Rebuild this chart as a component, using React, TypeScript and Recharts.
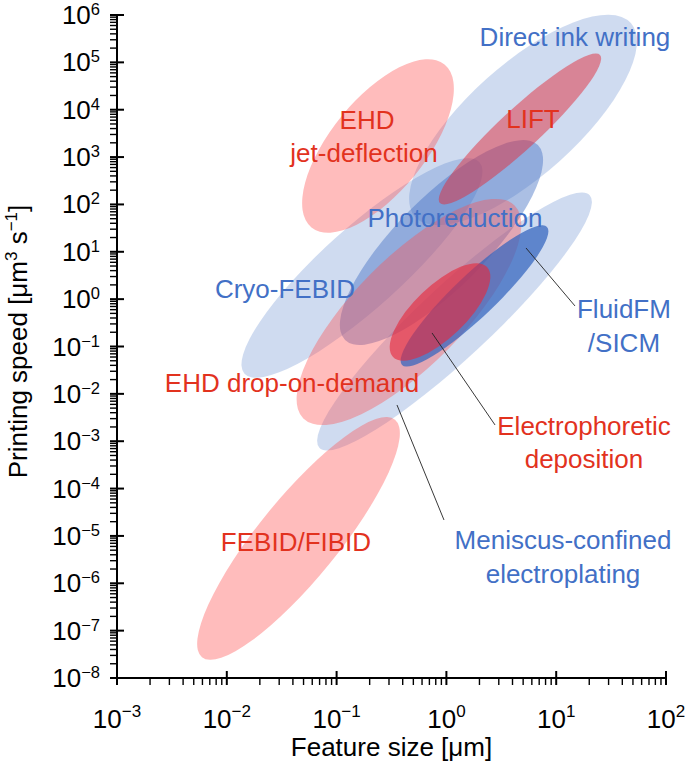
import React from 'react';
import { ScatterChart, Scatter, XAxis, YAxis, ReferenceLine } from 'recharts';

// ---------- axes ----------
const xDecades = [-3, -2, -1, 0, 1, 2];
const yDecades = [-8, -7, -6, -5, -4, -3, -2, -1, 0, 1, 2, 3, 4, 5, 6];
const minorMultipliers = [2, 3, 4, 5, 6, 7, 8, 9];
const xTitle = 'Feature size [μm]';

// ---------- ellipses (log10 units): centre, end of long half-axis, end of short half-axis ----------
const ellipseNames = [
  'Direct ink writing',
  'Cryo-FEBID',
  'Meniscus-confined electroplating',
  'Photoreduction',
  'EHD jet-deflection',
  'EHD drop-on-demand',
  'FEBID/FIBID',
  'LIFT',
  'FluidFM/SICM',
  'Electrophoretic deposition',
];
const ellipseCentres: [number, number][] = [
  [0.698, 3.783],
  [-0.769, 0.658],
  [0.074, -0.472],
  [-0.045, 1.196],
  [-0.623, 3.234],
  [-0.341, -0.271],
  [-1.347, -5.054],
  [0.67, 3.593],
  [0.256, 0.067],
  [-0.058, -0.271],
];
const ellipseLongEnds: [number, number][] = [
  [1.68, 5.831],
  [0.301, 2.89],
  [1.305, 2.193],
  [0.833, 3.253],
  [-0.017, 4.955],
  [0.621, 1.978],
  [-0.468, -2.547],
  [1.399, 5.155],
  [0.916, 1.524],
  [0.37, 0.679],
];
const ellipseShortEnds: [number, number][] = [
  [1.033, 2.919],
  [-0.525, 0.031],
  [0.298, -1.027],
  [0.247, 0.527],
  [-0.291, 2.605],
  [0.008, -1.073],
  [-1.065, -5.588],
  [0.794, 3.283],
  [0.388, -0.254],
  [0.106, -0.668],
];

// ---------- annotations (log10 units) ----------
const labelTexts = [
  'Direct ink writing', 'EHD', 'jet-deflection', 'LIFT', 'Photoreduction', 'Cryo-FEBID',
  'FluidFM', '/SICM', 'EHD drop-on-demand', 'Electrophoretic', 'deposition', 'FEBID/FIBID',
  'Meniscus-confined', 'electroplating',
];
const labelPositions: [number, number][] = [
  [1.171, 5.345], [-0.723, 3.593], [-0.75, 2.896], [0.789, 3.614], [0.078, 1.524], [-1.47, 0.024],
  [1.617, -0.398], [1.617, -1.116], [-1.406, -1.96], [1.253, -2.868], [1.253, -3.565], [-1.37, -5.318],
  [1.062, -5.275], [1.062, -5.993],
];
const labelTones = [
  'blue', 'red', 'red', 'red', 'blue', 'blue', 'blue', 'blue', 'red', 'red', 'red', 'red', 'blue', 'blue',
];
const leaderLines: [[number, number], [number, number]][] = [
  [[0.725, 1.08], [1.171, -0.144]],
  [[-0.131, -0.714], [0.443, -2.657]],
  [[-0.45, -2.235], [-0.022, -4.663]],
];

// ---------- styles ----------
const FONT = '"Liberation Sans", Arial, Helvetica, sans-serif';
const toneColour: Record<string, string> = { red: '#e2321e', blue: '#4270c6' };
const ellipseStyle: Record<string, { fill: string; opacity: number }> = {
  'Direct ink writing': { fill: 'rgb(68,114,196)', opacity: 0.26 },
  'Cryo-FEBID': { fill: 'rgb(68,114,196)', opacity: 0.26 },
  'Meniscus-confined electroplating': { fill: 'rgb(68,114,196)', opacity: 0.26 },
  Photoreduction: { fill: 'rgb(68,114,196)', opacity: 0.45 },
  'EHD jet-deflection': { fill: 'rgb(255,80,80)', opacity: 0.38 },
  'EHD drop-on-demand': { fill: 'rgb(255,80,80)', opacity: 0.38 },
  'FEBID/FIBID': { fill: 'rgb(255,80,80)', opacity: 0.38 },
  LIFT: { fill: 'rgb(225,45,60)', opacity: 0.5 },
  'FluidFM/SICM': { fill: 'rgb(50,100,190)', opacity: 0.72 },
  'Electrophoretic deposition': { fill: 'rgb(230,40,60)', opacity: 0.62 },
};

// ---------- derived tables ----------
const buildTicks = (decades: number[]) => {
  const out: number[] = [];
  decades.forEach((d, i) => {
    out.push(10 ** d);
    if (i < decades.length - 1) minorMultipliers.forEach((m) => out.push(m * 10 ** d));
  });
  return out;
};
const xTicks = buildTicks(xDecades);
const yTicks = buildTicks(yDecades);
const toPoint = (p: [number, number]) => ({ x: 10 ** p[0], y: 10 ** p[1] });
const ellipses = ellipseNames.map((name, i) => ({
  name,
  data: [toPoint(ellipseCentres[i]), toPoint(ellipseLongEnds[i]), toPoint(ellipseShortEnds[i])],
}));
const labels = labelTexts.map((text, i) => ({ ...toPoint(labelPositions[i]), text, tone: labelTones[i] }));

const isMajor = (v: number) => {
  const e = Math.log10(v);
  return Math.abs(e - Math.round(e)) < 1e-6;
};
const expText = (v: number) => {
  const e = Math.round(Math.log10(v));
  return e < 0 ? '\u2212' + Math.abs(e) : String(e);
};

const XTick = (props: any) => {
  const { x, y, payload } = props;
  const major = isMajor(payload.value);
  return (
    <g>
      <line x1={x} x2={x} y1={major ? y - 7 : y} y2={y + 7} stroke="#000" strokeWidth={major ? 2 : 1.4} />
      {major && (
        <text x={x} y={y + 50} textAnchor="middle" fontFamily={FONT} fontSize={26} fill="#000">
          10<tspan dy={-11} fontSize={17}>{expText(payload.value)}</tspan>
        </text>
      )}
    </g>
  );
};

const YTick = (props: any) => {
  const { x, y, payload } = props;
  const major = isMajor(payload.value);
  return (
    <g>
      <line x1={x - 7} x2={major ? x + 7 : x} y1={y} y2={y} stroke="#000" strokeWidth={major ? 2 : 1.4} />
      {major && (
        <text x={x - 17} y={y + 9} textAnchor="end" fontFamily={FONT} fontSize={26} fill="#000">
          10<tspan dy={-9} fontSize={16.5}>{expText(payload.value)}</tspan>
        </text>
      )}
    </g>
  );
};

const XTitle = (props: any) => {
  const vb = props.viewBox || {};
  return (
    <text x={vb.x + vb.width / 2} y={vb.y + 78} textAnchor="middle" fontFamily={FONT} fontSize={26} fill="#000">
      {xTitle}
    </text>
  );
};

const YTitle = (props: any) => {
  const vb = props.viewBox || {};
  const x = vb.x + 10;
  const y = vb.y + vb.height / 2 - 5;
  return (
    <text x={x} y={y} transform={`rotate(-90 ${x} ${y})`} textAnchor="middle" fontFamily={FONT} fontSize={26} fill="#000">
      Printing speed [μm<tspan dy={-10} fontSize={17}>3</tspan>
      <tspan dy={10}> s</tspan>
      <tspan dy={-10} fontSize={17}>{'\u22121'}</tspan>
      <tspan dy={10}>]</tspan>
    </text>
  );
};

const makeEllipse = (fill: string, opacity: number) => (props: any) => {
  const pts = props.points;
  if (!pts || pts.length < 3) return <g />;
  const [c, a, b] = pts;
  const m = [a.x - c.x, a.y - c.y, b.x - c.x, b.y - c.y, c.x, c.y].join(' ');
  return <circle cx={0} cy={0} r={1} transform={`matrix(${m})`} fill={fill} fillOpacity={opacity} stroke="none" />;
};

const LabelShape = (props: any) => {
  const { cx, cy, payload } = props;
  return (
    <text x={cx} y={cy} textAnchor="middle" fontFamily={FONT} fontSize={26} fill={toneColour[payload.tone]}>
      {payload.text}
    </text>
  );
};

const Empty = () => <g />;

export default function App() {
  return (
    <div style={{ position: 'absolute', left: 0, top: 0, background: '#fff' }}>
      <ScatterChart width={685} height={767} margin={{ top: 15, right: 19, left: 17, bottom: 29 }}>
        <XAxis
          type="number"
          dataKey="x"
          scale="log"
          domain={[10 ** xDecades[0], 10 ** xDecades[xDecades.length - 1]]}
          ticks={xTicks}
          interval={0}
          tick={XTick}
          tickLine={false}
          tickSize={0}
          tickMargin={0}
          axisLine={{ stroke: '#000', strokeWidth: 2 }}
          height={60}
          label={XTitle}
        />
        <YAxis
          type="number"
          dataKey="y"
          scale="log"
          domain={[10 ** yDecades[0], 10 ** yDecades[yDecades.length - 1]]}
          ticks={yTicks}
          interval={0}
          tick={YTick}
          tickLine={false}
          tickSize={0}
          tickMargin={0}
          axisLine={{ stroke: '#000', strokeWidth: 2 }}
          width={100}
          label={YTitle}
        />
        {ellipses.map((e) => (
          <Scatter
            key={e.name}
            name={e.name}
            data={e.data}
            shape={Empty}
            line={makeEllipse(ellipseStyle[e.name].fill, ellipseStyle[e.name].opacity)}
            lineType="joint"
            isAnimationActive={false}
          />
        ))}
        {leaderLines.map((seg, i) => (
          <ReferenceLine
            key={i}
            segment={[toPoint(seg[0]), toPoint(seg[1])]}
            stroke="#222"
            strokeWidth={0.9}
            ifOverflow="visible"
            zIndex={1000}
          />
        ))}
        <Scatter name="labels" data={labels} shape={LabelShape} isAnimationActive={false} />
      </ScatterChart>
    </div>
  );
}
